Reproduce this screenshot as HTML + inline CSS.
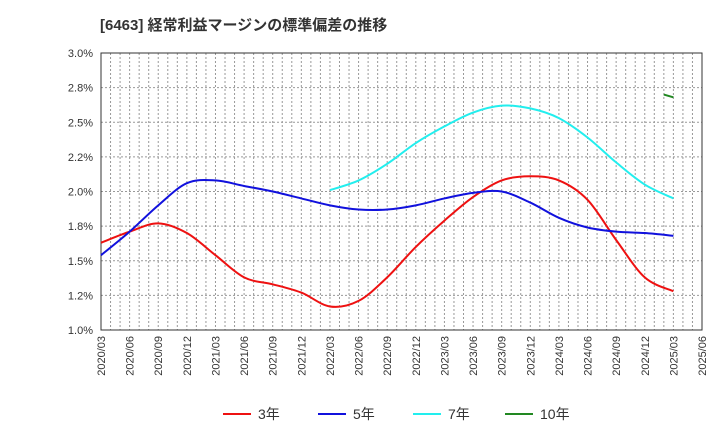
<!DOCTYPE html>
<html><head><meta charset="utf-8"><style>
body{margin:0;background:#fff;font-family:"Liberation Sans","Noto Sans CJK JP",sans-serif}
</style></head><body>
<svg width="720" height="440" xmlns="http://www.w3.org/2000/svg">
<text x="100" y="30" font-size="15" font-weight="bold" fill="#333" font-family="Liberation Sans, Noto Sans CJK JP, sans-serif">[6463]  経常利益マージンの標準偏差の推移</text>
<g id="grid"></g><g id="axes"></g><g id="series"></g><g id="legend"></g>
</svg>
<script>
const xLabels=["2020/03","2020/06","2020/09","2020/12","2021/03","2021/06","2021/09","2021/12","2022/03","2022/06","2022/09","2022/12","2023/03","2023/06","2023/09","2023/12","2024/03","2024/06","2024/09","2024/12","2025/03","2025/06"];
const yTicks=[1.0,1.25,1.5,1.75,2.0,2.25,2.5,2.75,3.0];
const yTickLabels=["1.0%","1.2%","1.5%","1.8%","2.0%","2.2%","2.5%","2.8%","3.0%"];
const red3=[1.63,1.71,1.77,1.70,1.54,1.38,1.33,1.27,1.17,1.21,1.38,1.60,1.79,1.96,2.08,2.11,2.08,1.94,1.65,1.38,1.28];
const blue5=[1.54,1.71,1.90,2.06,2.08,2.04,2.00,1.95,1.90,1.87,1.87,1.90,1.95,1.99,2.00,1.92,1.81,1.74,1.71,1.70,1.68];
const cyan7=[null,null,null,null,null,null,null,null,2.01,2.08,2.20,2.35,2.47,2.57,2.62,2.60,2.53,2.39,2.21,2.05,1.95];
const green10Months=[59,60];
const green10=[2.70,2.68];
const L=101,R=702,T=53,B=330;
const xm=m=>L+m*(R-L)/63;
const yv=v=>B-(v-1.0)*(B-T)/2.0;
const NS="http://www.w3.org/2000/svg";
function mk(tag,attrs,parent){const e=document.createElementNS(NS,tag);for(const k in attrs)e.setAttribute(k,attrs[k]);parent.appendChild(e);return e;}
const grid=document.getElementById('grid'),axes=document.getElementById('axes'),ser=document.getElementById('series'),leg=document.getElementById('legend');
for(let m=1;m<63;m++){const l=mk('line',{x1:xm(m),x2:xm(m),y1:T,y2:B,stroke:'#999','stroke-dasharray':'2,2','stroke-width':1},grid);

}
yTicks.forEach((v,i)=>{const l=mk('line',{x1:L,x2:R,y1:yv(v),y2:yv(v),stroke:'#999','stroke-dasharray':'2,2','stroke-width':1},grid);


const t=mk('text',{x:L-8,y:yv(v)+4,'text-anchor':'end','font-size':11,fill:'#333'},axes);


t.textContent=yTickLabels[i];});
const fr=mk('rect',{x:L,y:T,width:R-L,height:B-T,fill:'none',stroke:'#333','stroke-width':1},axes);


xLabels.forEach((s,i)=>{const x=xm(i*3);const t=mk('text',{x:x+4,y:B+6,'text-anchor':'end','font-size':11,fill:'#333',transform:`rotate(-90 ${x+4} ${B+6})`},axes);


t.textContent=s;});
function smooth(pts){if(pts.length<2)return '';let d=`M${pts[0][0]},${pts[0][1]}`;
for(let i=0;i<pts.length-1;i++){const p0=pts[i-1]||pts[i],p1=pts[i],p2=pts[i+1],p3=pts[i+2]||p2;
d+=` C${p1[0]+(p2[0]-p0[0])/6},${p1[1]+(p2[1]-p0[1])/6} ${p2[0]-(p3[0]-p1[0])/6},${p2[1]-(p3[1]-p1[1])/6} ${p2[0]},${p2[1]}`;}return d;}
function series(vals,color,name){const pts=[];vals.forEach((v,i)=>{if(v!=null)pts.push([xm(i*3),yv(v)]);});
const p=mk('path',{d:smooth(pts),fill:'none',stroke:color,'stroke-width':2},ser);

}
series(red3,'#ee1111','series-3y');
series(blue5,'#1111dd','series-5y');
series(cyan7,'#22eeee','series-7y');
const gp=mk('path',{d:smooth(green10.map((v,i)=>[xm(green10Months[i]),yv(v)])),fill:'none',stroke:'#228822','stroke-width':2},ser);


[['3年','#ee1111',223],['5年','#1111dd',318],['7年','#22eeee',413],['10年','#228822',505]].forEach(([lab,c,x])=>{
const g=mk('g',{},leg);


mk('line',{x1:x,x2:x+28,y1:414,y2:414,stroke:c,'stroke-width':2},g);
const t=mk('text',{x:x+35,y:419,'font-size':14,fill:'#333'},g);t.textContent=lab;});
</script>
</body></html>
